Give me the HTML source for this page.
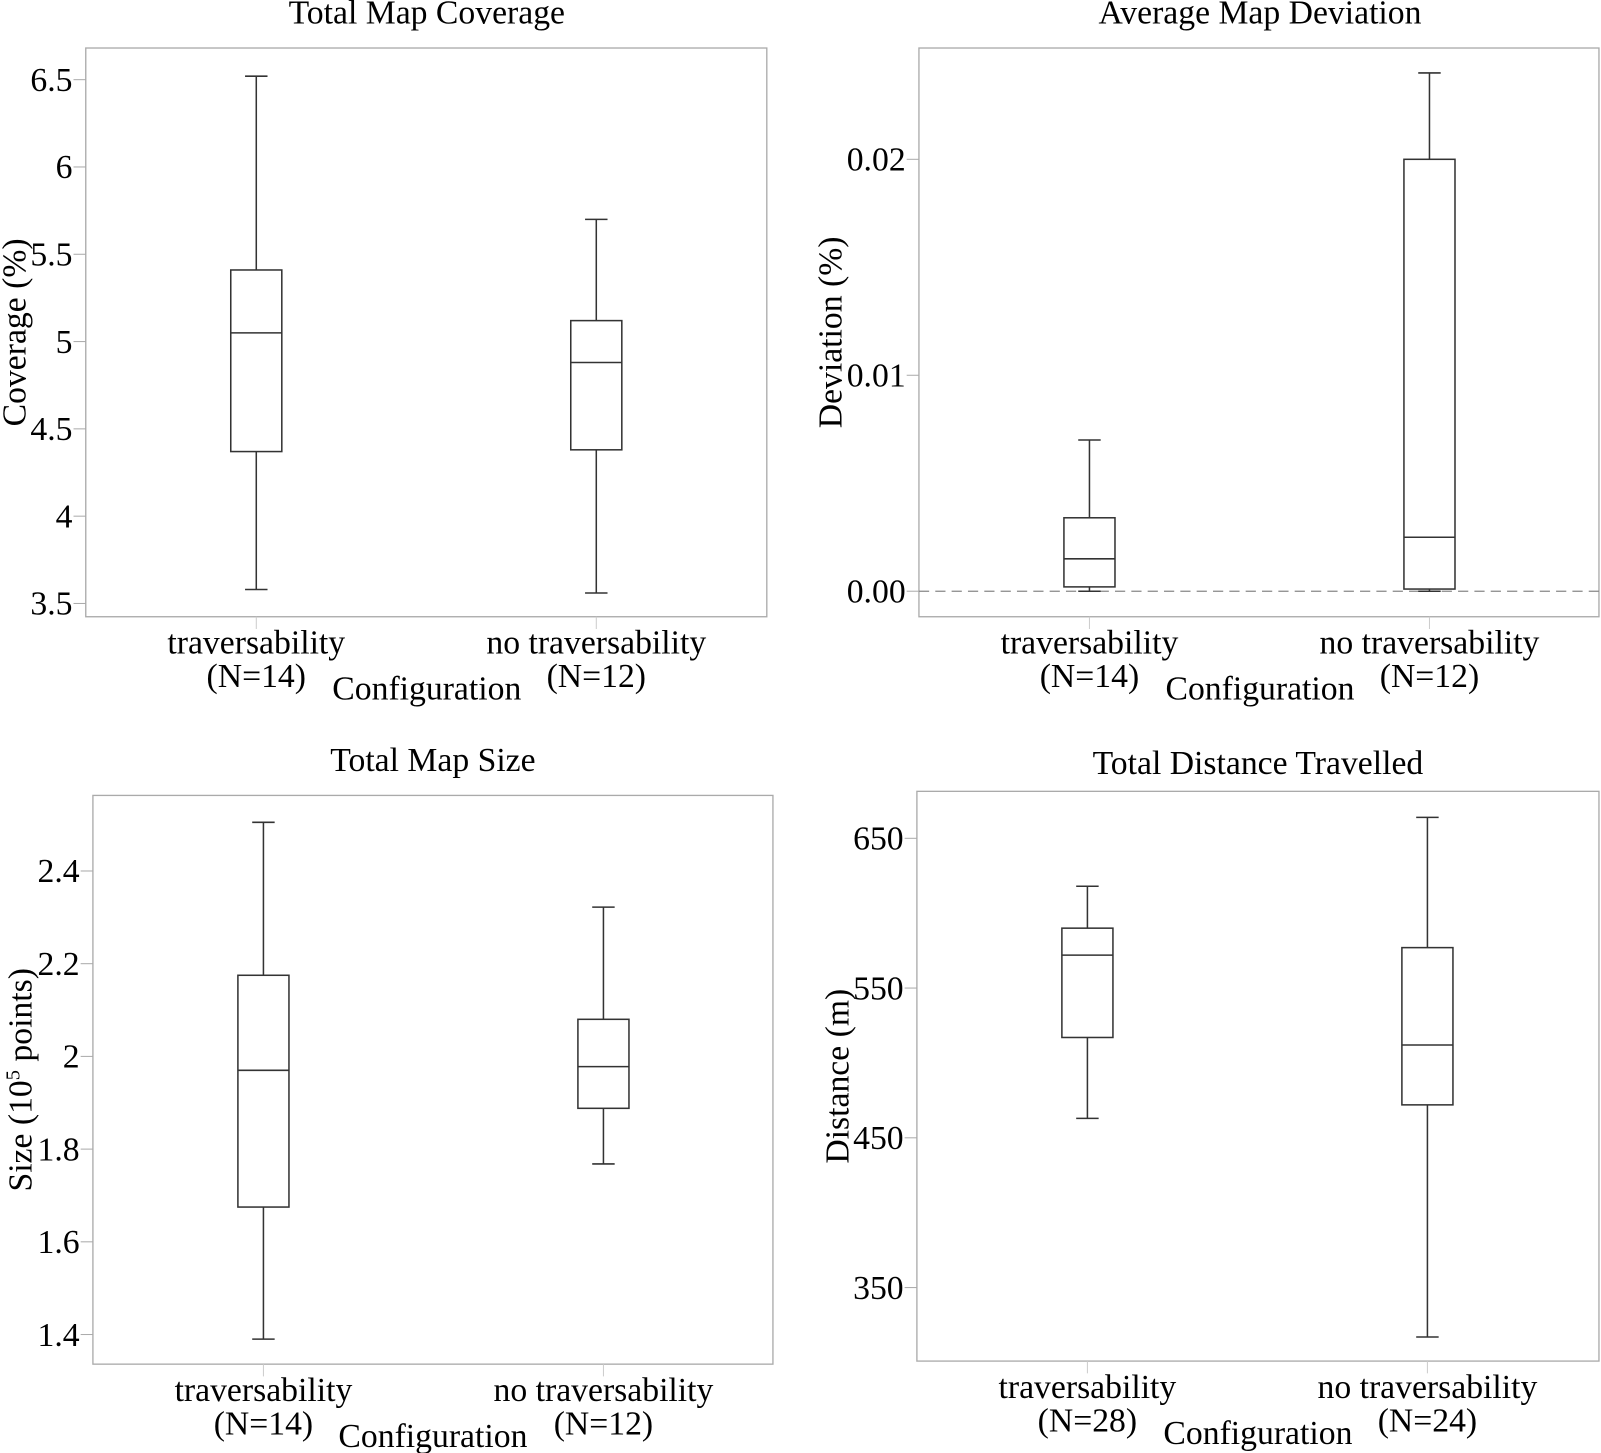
<!DOCTYPE html>
<html><head><meta charset="utf-8"><style>
html,body{margin:0;padding:0;background:#fff;}
svg{display:block;}
text{font-family:"Liberation Serif",serif;fill:#000;}
</style></head><body>
<svg id="fig" width="1601" height="1453" viewBox="0 0 1568 1423" font-family="Liberation Serif, serif" xmlns="http://www.w3.org/2000/svg"></svg>
<script>
// ---- data ----
const categories = ["traversability", "no traversability"];
const coverageN = [14, 12];
const coverageMin = [3.58, 3.56];
const coverageQ1 = [4.37, 4.38];
const coverageMed = [5.05, 4.88];
const coverageQ3 = [5.41, 5.12];
const coverageMax = [6.52, 5.70];
const coverageTicks = ["3.5","4","4.5","5","5.5","6","6.5"];

const deviationN = [14, 12];
const deviationMin = [0.0, 0.0];
const deviationQ1 = [0.0002, 0.0001];
const deviationMed = [0.0015, 0.0025];
const deviationQ3 = [0.0034, 0.0200];
const deviationMax = [0.0070, 0.0240];
const deviationTicks = ["0.00","0.01","0.02"];

const sizeN = [14, 12];
const sizeMin = [1.39, 1.768];
const sizeQ1 = [1.675, 1.888];
const sizeMed = [1.97, 1.978];
const sizeQ3 = [2.175, 2.08];
const sizeMax = [2.505, 2.322];
const sizeTicks = ["1.4","1.6","1.8","2","2.2","2.4"];

const distanceN = [28, 24];
const distanceMin = [463, 317];
const distanceQ1 = [517, 472];
const distanceMed = [572, 512];
const distanceQ3 = [590, 577];
const distanceMax = [618, 664];
const distanceTicks = ["350","450","550","650"];

const NS = "http://www.w3.org/2000/svg";
const svg = document.getElementById("fig");
function mk(tag, attrs, parent, txt) {
  const e = document.createElementNS(NS, tag);
  for (const k in attrs) e.setAttribute(k, attrs[k]);
  if (txt !== undefined) e.textContent = txt;
  (parent || svg).appendChild(e);
  return e;
}

function panel(cfg) {
  const g = mk("g", {});
  
  
  const {x0, y0, x1, y1, v0, p0, v1, p1} = cfg;
  const yS = v => p0 + (v - v0) * (p1 - p0) / (v1 - v0);
  const t = mk("text", {x: cfg.tx, y: cfg.ty, "text-anchor": "middle", "font-size": 33}, g, cfg.title);
  
  
  const fr = mk("rect", {x: x0, y: y0, width: x1 - x0, height: y1 - y0, fill: "none", stroke: "#aaa", "stroke-width": 1.3}, g);
  
  
  cfg.ticks.forEach(tk => {
    const y = yS(parseFloat(tk));
    mk("line", {x1: x0 - 12, x2: x0, y1: y, y2: y, stroke: "#aaa", "stroke-width": 1}, g);
    const tl = mk("text", {x: x0 - 13, y: y + 11, "text-anchor": "end", "font-size": 33}, g, tk);
    
    
  });
  if (cfg.dashedZero) {
    const dl = mk("line", {x1: x0, x2: x1, y1: yS(0), y2: yS(0), stroke: "#888", "stroke-width": 1.2, "stroke-dasharray": "10,6"}, g);
    
    
  }
  const yt = mk("text", {transform: `translate(${cfg.ytx},${(y0 + y1) / 2}) rotate(-90)`, "text-anchor": "middle", "font-size": 33}, g);
  
  
  if (cfg.sup) {
    yt.appendChild(document.createTextNode("Size (10"));
    mk("tspan", {"font-size": 20, dy: -12}, yt, "5");
    mk("tspan", {dy: 12}, yt, " points)");
  } else yt.textContent = cfg.ytitle;
  const half = 25, cap = 11;
  categories.forEach((c, i) => {
    const x = cfg.cx[i];
    mk("line", {x1: x, x2: x, y1: y1, y2: y1 + 12, stroke: "#ccc", "stroke-width": 1}, g);
    const l1 = mk("text", {x: x, y: y1 + 36, "text-anchor": "middle", "font-size": 33}, g, c);
    
    
    const l2 = mk("text", {x: x, y: y1 + 69, "text-anchor": "middle", "font-size": 33}, g, `(N=${cfg.n[i]})`);
    
    
    const bg = mk("g", {stroke: "#333", "stroke-width": 1.5, fill: "none"}, g);
    
    
    const yMin = yS(cfg.min[i]), yQ1 = yS(cfg.q1[i]), yMed = yS(cfg.med[i]), yQ3 = yS(cfg.q3[i]), yMax = yS(cfg.max[i]);
    mk("line", {x1: x, x2: x, y1: yMax, y2: yQ3}, bg);
    mk("line", {x1: x, x2: x, y1: yQ1, y2: yMin}, bg);
    mk("line", {x1: x - cap, x2: x + cap, y1: yMax, y2: yMax}, bg);
    mk("line", {x1: x - cap, x2: x + cap, y1: yMin, y2: yMin}, bg);
    mk("rect", {x: x - half, y: yQ3, width: 2 * half, height: yQ1 - yQ3, fill: "#fff"}, bg);
    mk("line", {x1: x - half, x2: x + half, y1: yMed, y2: yMed}, bg);
  });
  const xt = mk("text", {x: cfg.tx, y: y1 + 81, "text-anchor": "middle", "font-size": 33}, g, "Configuration");
  
  
}

panel({name: "coverage-panel", title: "Total Map Coverage", x0: 84, y0: 47, x1: 751, y1: 604, tx: 418, ty: 23, cx: [251, 584],
  v0: 3.5, p0: 591, v1: 6.5, p1: 78, ticks: coverageTicks, ytitle: "Coverage (%)", ytx: 25,
  n: coverageN, min: coverageMin, q1: coverageQ1, med: coverageMed, q3: coverageQ3, max: coverageMax});
panel({name: "deviation-panel", title: "Average Map Deviation", x0: 900, y0: 47, x1: 1566, y1: 604, tx: 1234, ty: 23, cx: [1067, 1400],
  v0: 0, p0: 579, v1: 0.02, p1: 156, ticks: deviationTicks, ytitle: "Deviation (%)", ytx: 824, dashedZero: true,
  n: deviationN, min: deviationMin, q1: deviationQ1, med: deviationMed, q3: deviationQ3, max: deviationMax});
panel({name: "size-panel", title: "Total Map Size", x0: 91, y0: 779, x1: 757, y1: 1336, tx: 424, ty: 755, cx: [258, 591],
  v0: 1.4, p0: 1307, v1: 2.4, p1: 853, ticks: sizeTicks, ytitle: "", sup: true, ytx: 31,
  n: sizeN, min: sizeMin, q1: sizeQ1, med: sizeMed, q3: sizeQ3, max: sizeMax});
panel({name: "distance-panel", title: "Total Distance Travelled", x0: 898, y0: 775, x1: 1566, y1: 1333, tx: 1232, ty: 758, cx: [1065, 1398],
  v0: 350, p0: 1261, v1: 650, p1: 821, ticks: distanceTicks, ytitle: "Distance (m)", ytx: 831,
  n: distanceN, min: distanceMin, q1: distanceQ1, med: distanceMed, q3: distanceQ3, max: distanceMax});
</script>
</body></html>
